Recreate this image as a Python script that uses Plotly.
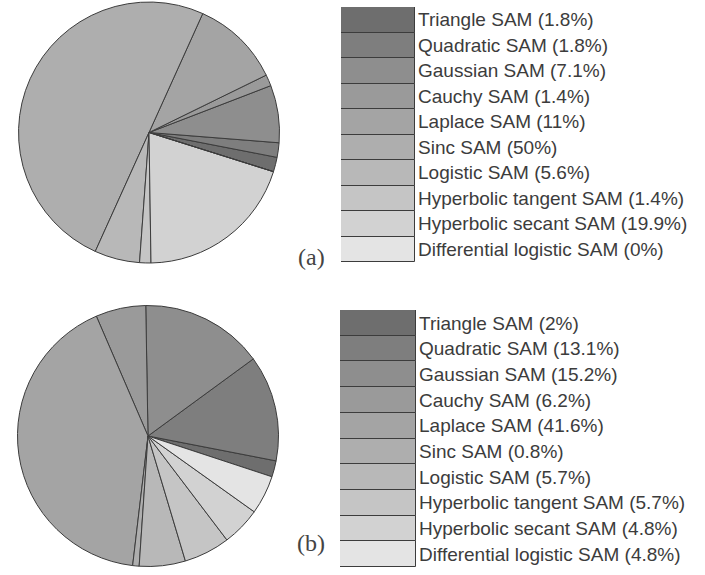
import plotly.graph_objects as go

W, H = 705, 575

names = ["Triangle SAM", "Quadratic SAM", "Gaussian SAM", "Cauchy SAM", "Laplace SAM",
         "Sinc SAM", "Logistic SAM", "Hyperbolic tangent SAM", "Hyperbolic secant SAM",
         "Differential logistic SAM"]
pct_a = [1.8, 1.8, 7.1, 1.4, 11, 50, 5.6, 1.4, 19.9, 0]
pct_b = [2, 13.1, 15.2, 6.2, 41.6, 0.8, 5.7, 5.7, 4.8, 4.8]
grays = ["#6e6e6e", "#7e7e7e", "#8e8e8e", "#9a9a9a", "#a4a4a4",
         "#aeaeae", "#b8b8b8", "#c5c5c5", "#d2d2d2", "#e4e4e4"]

labels_a = [f"{n} ({v:g}%)" for n, v in zip(names, pct_a)]
labels_b = [f"{n} ({v:g}%)" for n, v in zip(names, pct_b)]

edge = "#3c3c3c"
txt = "#3c3c3c"

def px(x):
    return x / W

def py(y):
    return 1 - y / H

fig = go.Figure()

# pies
fig.add_trace(go.Pie(labels=names, values=pct_a, sort=False, direction="counterclockwise",
                     rotation=101, marker=dict(colors=grays, line=dict(color=edge, width=1)),
                     textinfo="none", showlegend=False,
                     domain=dict(x=[px(18), px(280)], y=[py(263), py(2)])))
fig.add_trace(go.Pie(labels=names, values=pct_b, sort=False, direction="counterclockwise",
                     rotation=101, marker=dict(colors=grays, line=dict(color=edge, width=1)),
                     textinfo="none", showlegend=False,
                     domain=dict(x=[px(17.5), px(278.5)], y=[py(566.5), py(305.5)])))

# legend boxes drawn as stacked cells
ones = [1] * len(names)
fig.add_trace(go.Bar(x=ones, y=labels_a, orientation="h", marker=dict(color=grays, line=dict(color=edge, width=1)),
                     xaxis="x", yaxis="y", showlegend=False, hoverinfo="y"))
fig.add_trace(go.Bar(x=ones, y=labels_b, orientation="h", marker=dict(color=grays, line=dict(color=edge, width=1)),
                     xaxis="x2", yaxis="y2", showlegend=False, hoverinfo="y"))

axfont = dict(family='"Liberation Sans", Arial, sans-serif', size=19, color=txt)
serif = dict(family='"Liberation Serif", "Times New Roman", serif', size=24, color="#444")
fig.update_layout(
    width=W, height=H, margin=dict(l=0, r=0, t=0, b=0),
    paper_bgcolor="white", plot_bgcolor="white", bargap=0,
    xaxis=dict(domain=[px(341), px(415)], range=[0, 1], visible=False, fixedrange=True),
    yaxis=dict(domain=[py(262), py(7)], anchor="x", side="right", type="category",
               categoryorder="array", categoryarray=labels_a, autorange="reversed",
               showgrid=False, zeroline=False, showline=False, ticks="",
               tickfont=axfont, ticklabelstandoff=2),
    xaxis2=dict(domain=[px(340), px(416)], range=[0, 1], visible=False, fixedrange=True),
    yaxis2=dict(domain=[py(567), py(310)], anchor="x2", side="right", type="category",
                categoryorder="array", categoryarray=labels_b, autorange="reversed",
                showgrid=False, zeroline=False, showline=False, ticks="",
                tickfont=axfont, ticklabelstandoff=2),
    annotations=[
        dict(text="(a)", x=px(311), y=py(257), xref="paper", yref="paper", showarrow=False, font=serif),
        dict(text="(b)", x=px(311), y=py(558), xref="paper", yref="paper", showarrow=False, font=serif),
    ],
)

# remove the browser's default 8px page margin so the figure fills the window
fig.write_html("out.html", config={"displayModeBar": False},
               post_script="document.body.style.margin='0';document.body.style.overflow='hidden';")
